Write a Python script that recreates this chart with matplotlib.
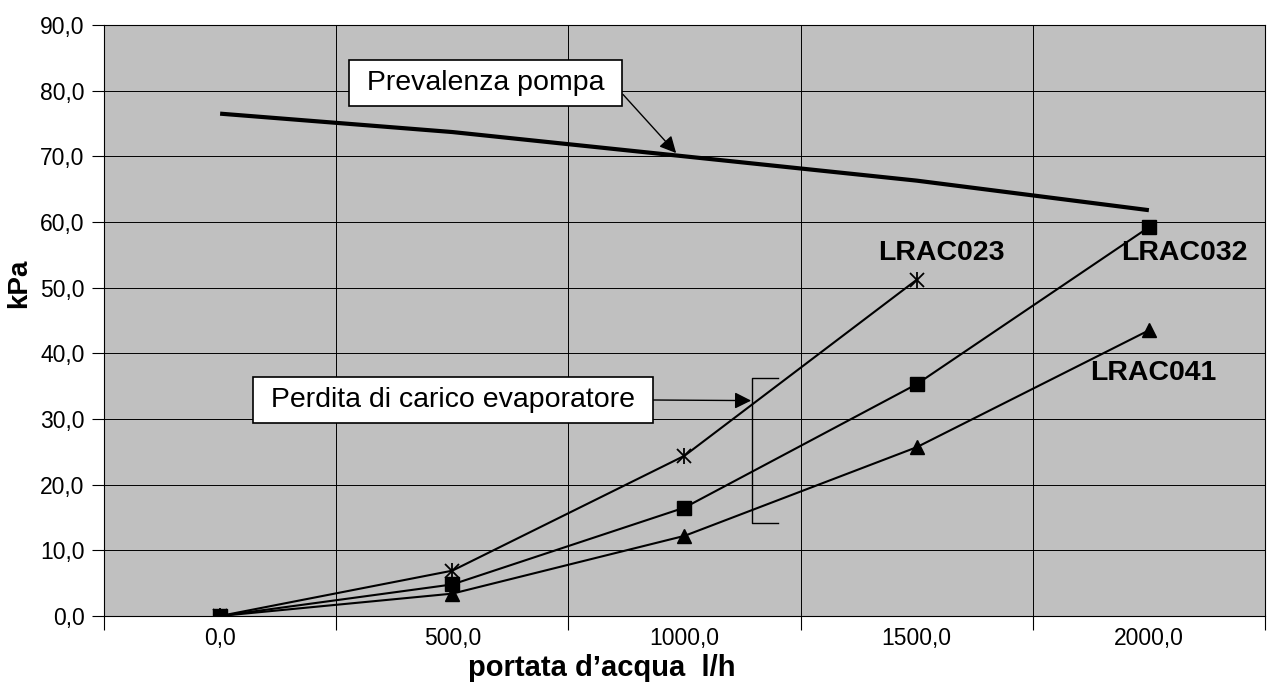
import numpy as np
import matplotlib
matplotlib.use("Agg")
import matplotlib.pyplot as plt

plt.rcParams['font.family'] = ['Liberation Sans', 'DejaVu Sans']

# portata d'acqua (l/h) - asse a categorie
portate = ['0,0', '500,0', '1000,0', '1500,0', '2000,0']
prevalenza_pompa = [76.5, 73.7, 70.0, 66.3, 61.8]
lrac023 = [0.0, 6.9, 24.4, 51.2]
lrac032 = [0.0, 4.8, 16.5, 35.3, 59.2]
lrac041 = [0.0, 3.4, 12.2, 25.7, 43.5]
y_ticks = [0, 10, 20, 30, 40, 50, 60, 70, 80, 90]

fig = plt.figure(figsize=(12.67, 6.89), dpi=100)
ax = fig.add_axes([0.0821, 0.106, 0.9163, 0.8577])
ax.set_facecolor('#C0C0C0')

x = np.arange(len(portate))
x23 = x[:len(lrac023)]

# curve
ax.plot(x, prevalenza_pompa, color='black', lw=3.0, solid_capstyle='butt', zorder=3)
ax.plot(x23, lrac023, color='black', lw=1.5, zorder=4)
ax.plot(x23, lrac023, ls='none', color='black', marker='x', markersize=10,
        markeredgewidth=1.3, zorder=4)
ax.plot(x23, lrac023, ls='none', color='black', marker='|', markersize=12,
        markeredgewidth=1.3, zorder=4)
ax.plot(x, lrac032, color='black', lw=1.5, marker='s', markersize=9.5, zorder=4)
ax.plot(x, lrac041, color='black', lw=1.5, marker='^', markersize=10.5, zorder=4)

# assi
ax.set_xlim(-0.5, len(portate) - 0.5)
ax.set_ylim(0, 90)
ax.set_xticks(x)
ax.set_xticklabels(portate)
ax.set_xticks(np.arange(-0.5, len(portate)), minor=True)
ax.tick_params(axis='x', which='major', length=0, labelsize=16.5, pad=8)
ax.tick_params(axis='x', which='minor', length=10, width=0.8, direction='out')
ax.set_yticks(y_ticks)
ax.set_yticklabels([f"{v:.1f}".replace('.', ',') for v in y_ticks])
ax.tick_params(axis='y', length=9, width=0.8, direction='out', labelsize=16.5, pad=5)
ax.grid(True, which='minor', axis='x', color='black', lw=0.7)
ax.grid(True, which='major', axis='y', color='black', lw=0.7)
ax.set_axisbelow(True)
for s in ax.spines.values():
    s.set_color('black')
    s.set_linewidth(0.8)

ax.set_xlabel("portata d\u2019acqua  l/h", fontsize=21, fontweight='bold')
ax.xaxis.set_label_coords(0.429, -0.064)
ax.set_ylabel("kPa", fontsize=20, fontweight='bold')
ax.yaxis.set_label_coords(-0.062, 0.563)

# etichette serie
ax.text(3.108, 55.3, "LRAC023", fontsize=20.5, fontweight='bold', ha='center', va='center')
ax.text(4.151, 55.3, "LRAC032", fontsize=20.5, fontweight='bold', ha='center', va='center')
ax.text(4.018, 37.0, "LRAC041", fontsize=20.5, fontweight='bold', ha='center', va='center')

box = dict(boxstyle='square,pad=0.35', fc='white', ec='black', lw=1.2)
ax.annotate(" Prevalenza pompa ", xy=(1.964, 70.5), xytext=(1.144, 81.2),
            fontsize=20.5, ha='center', va='center', bbox=box,
            arrowprops=dict(arrowstyle='-|>', color='black', lw=1.0,
                            mutation_scale=25, relpos=(1, 0.5), shrinkA=0, shrinkB=0),
            zorder=6)
ax.annotate(" Perdita di carico evaporatore ", xy=(2.287, 32.8), xytext=(1.003, 32.9),
            fontsize=20.5, ha='center', va='center', bbox=box,
            arrowprops=dict(arrowstyle='-|>', color='black', lw=1.0,
                            mutation_scale=25, relpos=(1, 0.5), shrinkA=0, shrinkB=0),
            zorder=6)

# parentesi
ax.plot([2.403, 2.291, 2.291, 2.403], [36.2, 36.2, 14.2, 14.2], color='black', lw=1.0, zorder=5)

fig.savefig("out.png", dpi=100)
